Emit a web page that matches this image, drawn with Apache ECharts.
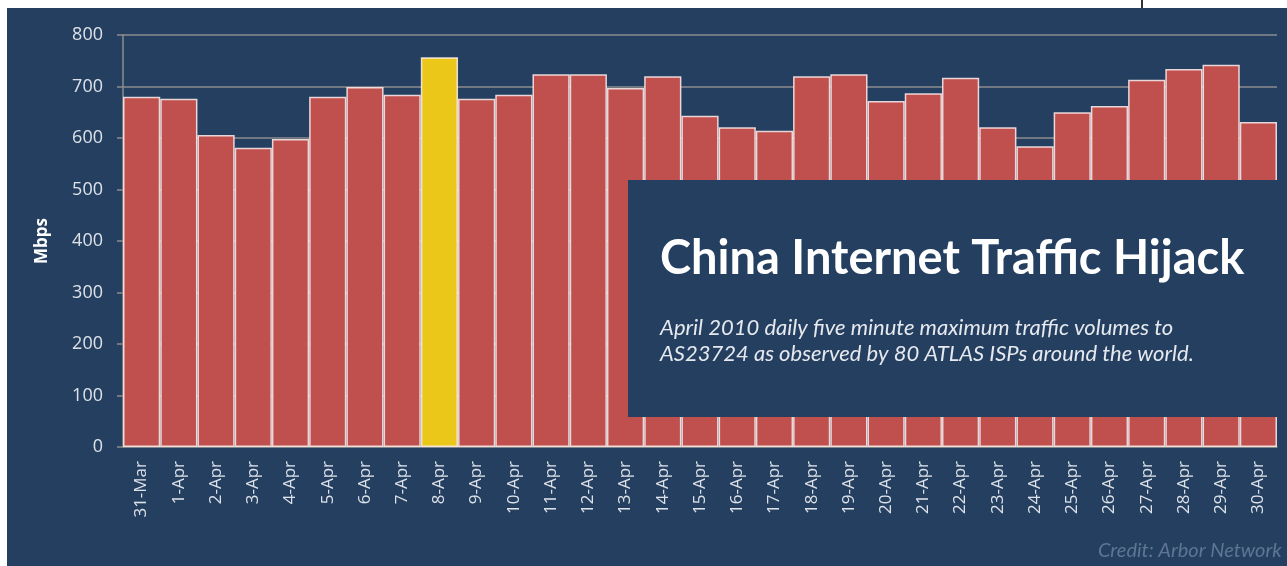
<!DOCTYPE html>
<html>
<head>
<meta charset="utf-8">
<script src="https://cdn.jsdelivr.net/npm/echarts@6/dist/echarts.min.js"></script>
<style>
    html, body { margin: 0; padding: 0; background: #ffffff; }
    #chart { position: absolute; left: 7px; top: 8px; width: 1280px; height: 558px; }
    #mark { position: absolute; left: 1141px; top: 0; width: 2px; height: 8px; background: #333; }
</style>
</head>
<body>
<div id="mark"></div>
<div id="chart"></div>
<script>
// daily five minute max traffic (Mbps)
const days = [
    '31-Mar', '1-Apr', '2-Apr', '3-Apr', '4-Apr', '5-Apr', '6-Apr', '7-Apr', '8-Apr',
    '9-Apr', '10-Apr', '11-Apr', '12-Apr', '13-Apr', '14-Apr', '15-Apr', '16-Apr',
    '17-Apr', '18-Apr', '19-Apr', '20-Apr', '21-Apr', '22-Apr', '23-Apr', '24-Apr',
    '25-Apr', '26-Apr', '27-Apr', '28-Apr', '29-Apr', '30-Apr'
];
const mbps = [
    680, 676, 606, 581, 598, 680, 699, 684, 757,
    676, 684, 724, 724, 697, 720, 643, 621,
    614, 720, 724, 672, 687, 717, 621, 584,
    650, 662, 713, 734, 742, 631
];
const hijackDay = '8-Apr';
const yTicks = [0, 100, 200, 300, 400, 500, 600, 700, 800];

const chart = echarts.init(document.getElementById('chart'));

const option = {
    backgroundColor: '#243f60',
    animation: false,
    grid: { left: 116, right: 10, top: 27, bottom: 119 },
    xAxis: {
        type: 'category',
        data: days,
        axisLine: { lineStyle: { color: '#8c8c8c', width: 1.5 } },
        axisTick: { length: 5, lineStyle: { color: '#8c8c8c', width: 1.5 } },
        axisLabel: {
            rotate: 90,
            margin: 14,
            color: '#dde2e8',
            fontFamily: 'Open Sans',
            fontSize: 17
        }
    },
    yAxis: {
        type: 'value',
        min: yTicks[0],
        max: yTicks[yTicks.length - 1],
        interval: 100,
        name: 'Mbps',
        nameLocation: 'middle',
        nameGap: 72,
        nameRotate: 90,
        nameTextStyle: { color: '#ffffff', fontFamily: 'Open Sans', fontWeight: 'bold', fontSize: 17 },
        axisLine: { show: true, lineStyle: { color: '#8c8c8c', width: 1.5 } },
        axisTick: { show: true, length: 6, lineStyle: { color: '#8c8c8c', width: 1.5 } },
        axisLabel: { margin: 20, color: '#dde2e8', fontFamily: 'Open Sans', fontSize: 18 },
        splitLine: { lineStyle: { color: '#8c8c8c', width: 1.5 } }
    },
    series: [{
        type: 'bar',
        barCategoryGap: 0,
        data: mbps.map((v, i) => days[i] === hijackDay
            ? { value: v, itemStyle: { color: '#ebc71a' } }
            : v),
        itemStyle: {
            color: '#c0504d',
            borderColor: 'rgba(255,240,240,0.85)',
            borderWidth: 1.5
        }
    }],
    graphic: [
        {
            type: 'rect',
            z: 100,
            shape: { x: 621, y: 172, width: 700, height: 237 },
            style: { fill: '#243f60' }
        },
        {
            type: 'text',
            z: 101,
            left: 653,
            top: 227,
            style: {
                text: 'China Internet Traffic Hijack',
                fill: '#ffffff',
                font: 'bold 47px Lato'
            }
        },
        {
            type: 'text',
            z: 101,
            left: 653,
            top: 307,
            style: {
                text: 'April 2010 daily five minute maximum traffic volumes to\nAS23724 as observed by 80 ATLAS ISPs around the world.',
                fill: '#e6e9ee',
                font: 'italic 22px Lato',
                lineHeight: 26
            }
        },
        {
            type: 'text',
            z: 101,
            left: 1091,
            top: 533,
            style: {
                text: 'Credit: Arbor Network',
                fill: '#5f7594',
                font: 'italic 20px Lato'
            }
        }
    ]
};

chart.setOption(option);
</script>
</body>
</html>
